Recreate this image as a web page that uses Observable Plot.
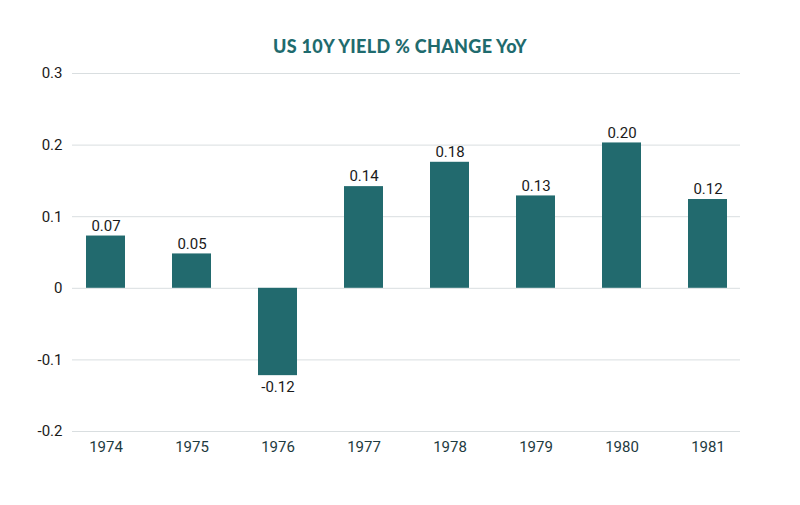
<!DOCTYPE html>
<html>
<head>
<meta charset="utf-8">
<script src="https://cdn.jsdelivr.net/npm/d3@7"></script>
<script src="https://cdn.jsdelivr.net/npm/@observablehq/plot@0.6"></script>
<style>
  html, body { margin: 0; padding: 0; background: #fff; }
  #wrap { position: relative; width: 800px; height: 505px; }
  #title { position: absolute; top: 35px; left: 0; width: 800px; text-align: center;
    font-family: Lato, "Open Sans", sans-serif; font-weight: 900; font-size: 18px;
    color: #1f6b6e; letter-spacing: 0.3px; }
  #chart { position: absolute; top: 0; left: 0; }
</style>
</head>
<body>
<div id="wrap">
  <div id="chart"></div>
  <div id="title">US 10Y YIELD % CHANGE YoY</div>
</div>
<script>
const years = ["1974", "1975", "1976", "1977", "1978", "1979", "1980", "1981"];
const values = [0.073, 0.048, -0.122, 0.142, 0.176, 0.129, 0.203, 0.124];
const yTicks = [-0.2, -0.1, 0, 0.1, 0.2, 0.3];

const data = years.map((y, i) => ({year: y, value: values[i]}));
const fmtTick = d => d === 0 ? "0" : d.toFixed(1);
const fmtVal = d => d.toFixed(2);
const font = "'Liberation Sans Narrow', 'Roboto', sans-serif";

const chart = Plot.plot({
  width: 800,
  height: 505,
  marginTop: 73,
  marginBottom: 74,
  marginLeft: 72,
  marginRight: 60,
  style: {fontFamily: font, fontSize: "15px", background: "transparent"},
  x: {domain: years, paddingInner: 0.55, paddingOuter: 0.12, label: null},
  y: {domain: [-0.2, 0.3], label: null},
  marks: [
    Plot.ruleY(yTicks, {stroke: "#d9dee0", strokeWidth: 1}),
    Plot.barY(data, {x: "year", y: "value", fill: "#226a6e"}),
    Plot.text(data.filter(d => d.value >= 0), {x: "year", y: "value", text: d => fmtVal(d.value), dy: -10, fill: "#1a1a1a", fontSize: 15}),
    Plot.text(data.filter(d => d.value < 0), {x: "year", y: "value", text: d => fmtVal(d.value), dy: 12, fill: "#1a1a1a", fontSize: 15}),
    Plot.axisY({ticks: yTicks, tickFormat: fmtTick, tickSize: 0, tickPadding: 10, fill: "#1a1a1a", fontSize: 15, label: null}),
    Plot.axisX({tickSize: 0, tickPadding: 10, fill: "#1e3a40", fontSize: 15, label: null})
  ]
});
document.getElementById("chart").appendChild(chart);
</script>
</body>
</html>
